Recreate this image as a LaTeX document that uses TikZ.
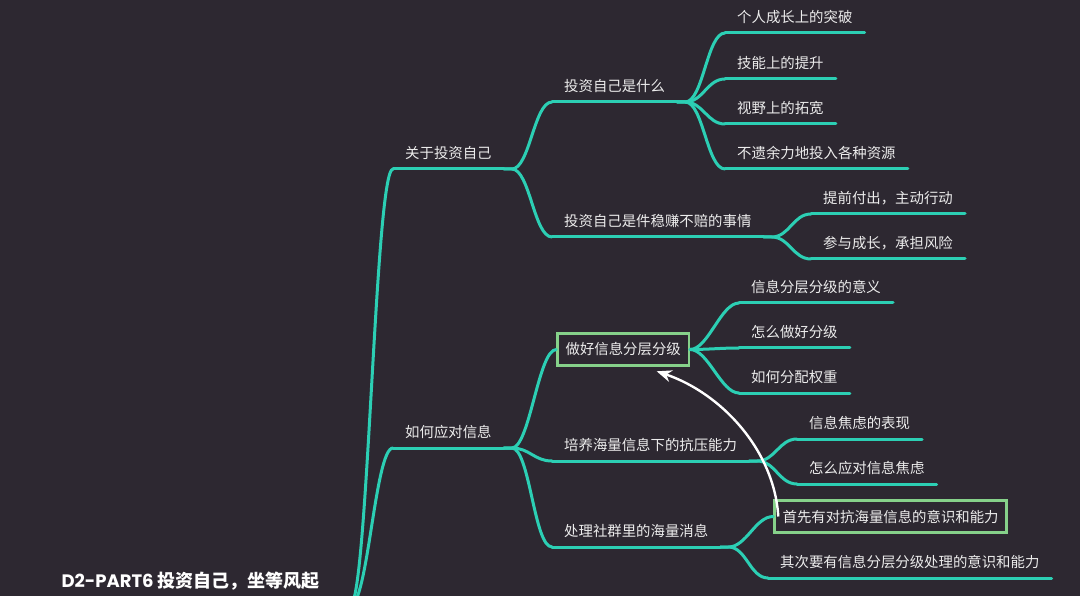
\documentclass[tikz,border=0pt]{standalone}
\usepackage{fontspec}
\setmainfont{Noto Sans CJK SC}
\newfontfamily\poppins{Poppins}
\usetikzlibrary{arrows.meta}

\definecolor{canvas}{HTML}{2D2831}
\definecolor{branchcol}{HTML}{2CCFB4}
\definecolor{boxgreen}{HTML}{86D18A}
\definecolor{labelcol}{HTML}{ECECEC}

\tikzset{
  branch/.style={draw=branchcol, line width=3pt, line cap=round},
  topic/.style={anchor=south west, text=labelcol, font=\fontsize{14.4}{17}\selectfont,
    inner xsep=12pt, inner ysep=7pt, text height=11pt, text depth=3pt},
  boxtopic/.style={topic, anchor=west, draw=boxgreen, line width=2.6pt,
    inner xsep=8pt, inner ysep=0pt, text height=14pt, minimum height=32pt},
  fork/.style={to path={.. controls ([xshift=18pt]\tikztostart) and ([xshift=-18pt]\tikztotarget) .. (\tikztotarget)}},
}

\begin{document}
\begin{tikzpicture}[x=1pt,y=-1pt]
  \useasboundingbox (0,0) rectangle (1080,596);
  \clip (0,0) rectangle (1080,596);
  \fill[canvas] (0,0) rectangle (1080,596);

  % root
  \node[topic, anchor=south east, font=\fontsize{18}{21}\selectfont\bfseries, text=white,
    inner xsep=30pt, inner ysep=14pt, text height=14pt, text depth=4pt] (root) at (350,606)
    {{\poppins D2-PART6} 投资自己，坐等风起};

  % level 1
  \node[topic] (l1a) at (393,169) {关于投资自己};
  \node[topic] (l1b) at (393,448) {如何应对信息};

  % level 2
  \node[topic] (a1) at (552,102) {投资自己是什么};
  \node[topic] (a2) at (552,237) {投资自己是件稳赚不赔的事情};
  \node[boxtopic] (b1) at (556.3,349.5) {做好信息分层分级};
  \node[topic] (b2) at (552,461) {培养海量信息下的抗压能力};
  \node[topic] (b3) at (552,547) {处理社群里的海量消息};

  % level 3
  \node[topic] (a11) at (725,33) {个人成长上的突破};
  \node[topic] (a12) at (725,79) {技能上的提升};
  \node[topic] (a13) at (725,124) {视野上的拓宽};
  \node[topic] (a14) at (725,169) {不遗余力地投入各种资源};
  \node[topic] (a21) at (811,214) {提前付出，主动行动};
  \node[topic] (a22) at (811,259) {参与成长，承担风险};
  \node[topic] (b11) at (739,303) {信息分层分级的意义};
  \node[topic] (b12) at (739,348) {怎么做好分级};
  \node[topic] (b13) at (739,393) {如何分配权重};
  \node[topic] (b21) at (797,439) {信息焦虑的表现};
  \node[topic] (b22) at (797,484) {怎么应对信息焦虑};
  \node[boxtopic] (b31) at (773.3,516.5) {首先有对抗海量信息的意识和能力};
  \node[topic] (b32) at (768,578) {其次要有信息分层分级处理的意识和能力};

  \foreach \n in {l1a,l1b,a1,a2,b2,b3,a11,a12,a13,a14,a21,a22,b11,b12,b13,b21,b22,b32}
    \draw[branch] (\n.south west) -- (\n.south east);

  \draw[branch] (root.south east) to[fork] (l1a.south west);
  \draw[branch] (root.south east) to[fork] (l1b.south west);
  \foreach \c in {a1,a2}
    \draw[branch] (l1a.south east) -- ++(8,0) to[fork] (\c.south west);
  \draw[branch] (l1b.south east) -- ++(8,0) to[fork] (b1.west);
  \foreach \c in {b2,b3}
    \draw[branch] (l1b.south east) -- ++(8,0) to[fork] (\c.south west);
  \foreach \c in {a11,a12,a13,a14}
    \draw[branch] (a1.south east) -- ++(8,0) to[fork] (\c.south west);
  \foreach \c in {a21,a22}
    \draw[branch] (a2.south east) -- ++(8,0) to[fork] (\c.south west);
  \foreach \c in {b11,b12,b13}
    \draw[branch] (b1.east) to[fork] (\c.south west);
  \foreach \c in {b21,b22}
    \draw[branch] (b2.south east) -- ++(8,0) to[fork] (\c.south west);
  \draw[branch] (b3.south east) -- ++(8,0) to[fork] (b31.west);
  \draw[branch] (b3.south east) -- ++(8,0) to[fork] (b32.south west);

  % hint arrow
  \draw[white, line width=2.4pt, -{Stealth[length=15pt,width=12pt]}]
    ([xshift=5pt]b31.west) .. controls +(-4,-66) and +(65,22) .. ([xshift=33.5pt,yshift=-4.5pt]b1.south);
\end{tikzpicture}
\end{document}
